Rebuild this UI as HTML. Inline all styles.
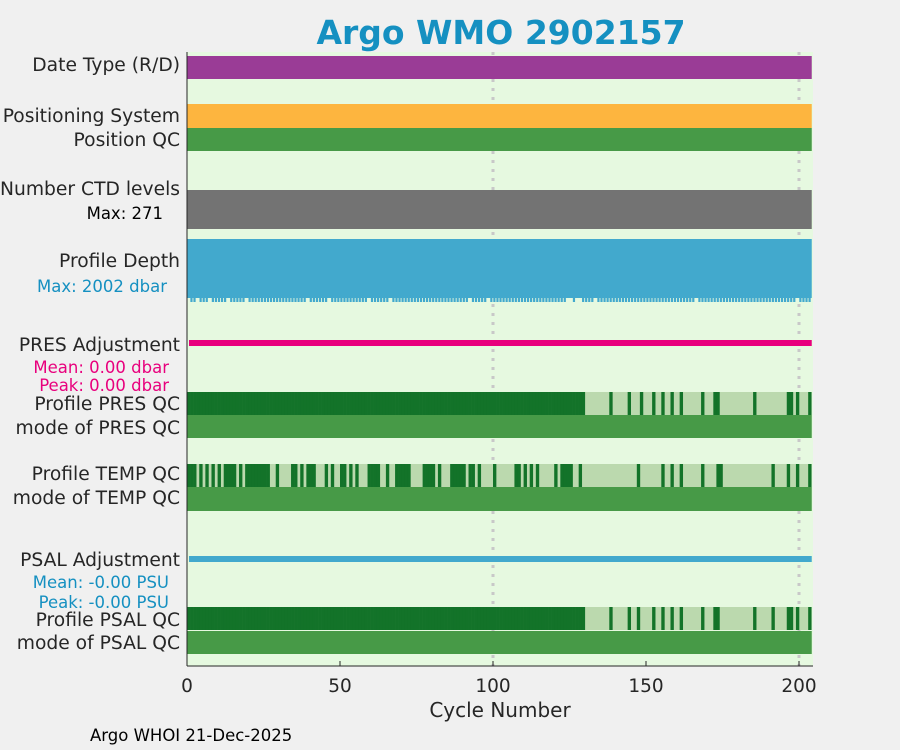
<!DOCTYPE html>
<html><head><meta charset="utf-8"><style>
body{margin:0;background:#f0f0f0;}
svg{display:block;font-family:"DejaVu Sans","Liberation Sans",sans-serif;}
</style></head><body>
<svg id="chart" width="900" height="750">
<rect width="900" height="750" fill="#f0f0f0"/>
<text x="501" y="44" text-anchor="middle" font-size="33" font-weight="bold" fill="#1590c1">Argo WMO 2902157</text>
<rect x="187" y="52" width="626" height="614" fill="#e6f9e0"/>
<g id="grid"></g>
<g id="marks"></g>
<line x1="187" y1="52" x2="187" y2="666" stroke="#262626" stroke-width="1"/>
<line x1="187" y1="666" x2="813" y2="666" stroke="#262626" stroke-width="1"/>
<g id="xticks" font-size="18.5" fill="#262626"></g>
<text x="500" y="717" text-anchor="middle" font-size="20" fill="#262626">Cycle Number</text>
<text x="90" y="741" font-size="16.5" fill="#000">Argo WHOI 21-Dec-2025</text>
<g font-size="18.7" fill="#262626" text-anchor="end">
<text x="180" y="71">Date Type (R/D)</text>
<text x="180" y="122">Positioning System</text>
<text x="180" y="146">Position QC</text>
<text x="180" y="195">Number CTD levels</text>
<text x="163" y="219" font-size="16.5" fill="#000">Max: 271</text>
<text x="180" y="267">Profile Depth</text>
<text x="167" y="292" font-size="16.5" fill="#1590c1">Max: 2002 dbar</text>
<text x="180" y="351">PRES Adjustment</text>
<text x="169" y="373" font-size="16.5" fill="#e8007d">Mean: 0.00 dbar</text>
<text x="169" y="391" font-size="16.5" fill="#e8007d">Peak: 0.00 dbar</text>
<text x="180" y="410">Profile PRES QC</text>
<text x="180" y="434">mode of PRES QC</text>
<text x="180" y="480">Profile TEMP QC</text>
<text x="180" y="504">mode of TEMP QC</text>
<text x="180" y="566">PSAL Adjustment</text>
<text x="169" y="588" font-size="16.5" fill="#1590c1">Mean: -0.00 PSU</text>
<text x="169" y="608" font-size="16.5" fill="#1590c1">Peak: -0.00 PSU</text>
<text x="180" y="626">Profile PSAL QC</text>
<text x="180" y="649">mode of PSAL QC</text>
</g>
</svg>
<script>
const nCycles = 204;
const xTicks = [0, 50, 100, 150, 200];
const gridTicks = [100, 200];
const presBadCycles = [139,145,149,153,156,159,162,169,173,174,186,197,198,200,204];
const psalBadCycles = [139,145,148,153,156,159,162,169,173,174,186,192,197,198,200,204];
const tempBadCycles = [1,2,3,5,7,9,11,13,14,15,16,18,20,21,22,23,24,25,26,27,30,35,36,38,40,41,42,46,48,51,52,54,56,60,61,62,63,66,69,70,71,72,73,78,79,80,81,83,87,88,89,90,91,93,94,96,101,108,109,111,113,115,121,123,124,125,126,129,148,156,159,162,169,174,175,192,197,200,204];
const depthGapCycles = [1,4,8,14,20,40,47,60,67,93,99,125,126,128,129,134,167,200];

const NS='http://www.w3.org/2000/svg';
const x = c => 187 + c*3.06;
const marks = document.getElementById('marks');
function rect(x0,y0,w,h,fill,name){
  const r=document.createElementNS(NS,'rect');
  r.setAttribute('x',x0);r.setAttribute('y',y0);r.setAttribute('width',w);r.setAttribute('height',h);r.setAttribute('fill',fill);
  
  
  marks.appendChild(r);return r;
}
const grid=document.getElementById('grid');
gridTicks.forEach(t=>{
  const l=document.createElementNS(NS,'line');
  l.setAttribute('x1',x(t));l.setAttribute('x2',x(t));l.setAttribute('y1',52);l.setAttribute('y2',666);
  l.setAttribute('stroke','#c8c8c8');l.setAttribute('stroke-width',3);l.setAttribute('stroke-dasharray','3,6');
  
  
  grid.appendChild(l);
});
const xe=x(nCycles)+0.5, x0=x(0), W=xe-x0;
rect(x0,56,W,23,'#9a3c96','date-type-bar');
rect(x0,104,W,24,'#fdb53f','positioning-system-bar');
rect(x0,128,W,23,'#479a47','position-qc-bar');
rect(x0,190,W,39,'#737373','ctd-levels-bar');
rect(x0,239,W,59,'#42a9cd','profile-depth-bar');
for(let c=1;c<=nCycles;c++){
  if(depthGapCycles.includes(c)) continue;
  rect(x(c-1)+0.3,298,2.2,4,'#42a9cd','depth-cycle-tick');
}
rect(x0+2,340,W-2,6,'#e8007d','pres-adjustment-line');
function qcRow(y,bad,name){
  rect(x0,y,W,23,'#bbd9ae',name+'-bg');
  for(let c=1;c<=nCycles;c++){
    if(c<=130&&name!=='temp-qc'||bad.includes(c)) rect(x(c-1),y,3.06+0.3,23,'#137329',name+'-cycle');
  }
}
qcRow(392,presBadCycles,'pres-qc');
rect(x0,415,W,23,'#479a47','mode-pres-qc-bar');
qcRow(464,tempBadCycles,'temp-qc');
rect(x0,487,W,24,'#479a47','mode-temp-qc-bar');
rect(x0+2,556,W-2,6,'#42a9cd','psal-adjustment-line');
qcRow(607,psalBadCycles,'psal-qc');
rect(x0,631,W,23,'#479a47','mode-psal-qc-bar');
const xt=document.getElementById('xticks');
xTicks.forEach(t=>{
  const tx=document.createElementNS(NS,'text');
  tx.setAttribute('x',x(t));tx.setAttribute('y',692);tx.setAttribute('text-anchor','middle');
  tx.textContent=t;
  
  
  xt.appendChild(tx);
  const l=document.createElementNS(NS,'line');
  l.setAttribute('x1',x(t));l.setAttribute('x2',x(t));l.setAttribute('y1',661);l.setAttribute('y2',666);l.setAttribute('stroke','#262626');
  
  
  xt.appendChild(l);
});
</script>
</body></html>
